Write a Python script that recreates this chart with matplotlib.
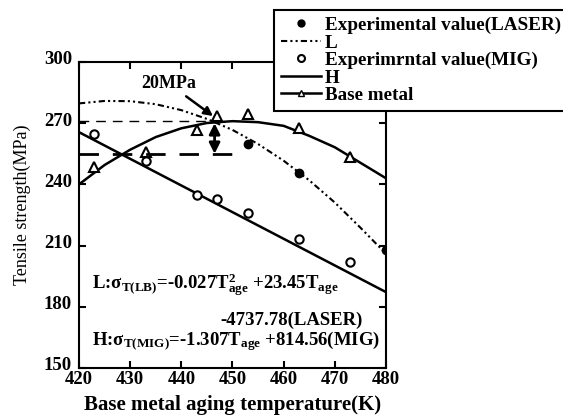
import matplotlib
matplotlib.use("Agg")
import matplotlib.pyplot as plt
from matplotlib.lines import Line2D
from matplotlib.transforms import ScaledTranslation

# values
temp_laser = [453, 463, 480]
ts_laser = [260.0, 245.5, 208.0]

temp_mig = [423, 433, 443, 447, 453, 463, 473]
ts_mig = [264.5, 251.5, 234.8, 232.8, 225.8, 213.0, 202.0]

temp_base = [423, 433, 443, 447, 453, 463, 473]
ts_base = [248.7, 256.0, 266.7, 273.5, 274.5, 267.5, 253.6]

# fitted curves
curve_temp = [420, 425, 430, 435, 440, 445, 450, 455, 460, 465, 470, 475, 480]
curve_L = [279.7, 280.9, 280.8, 279.3, 276.4, 272.1, 266.7, 259.8, 251.6, 242.0, 231.1, 218.8, 206.0]
curve_base = [240.0, 249.5, 257.0, 263.2, 267.5, 270.1, 271.0, 270.5, 268.7, 263.8, 258.2, 250.6, 243.0]
line_H_temp = [420, 480]
line_H = [265.6, 187.2]

upper_level = 271.0
lower_level = 255.0
level_end = [447, 450]

plt.rcParams["font.family"] = ["Liberation Serif", "DejaVu Serif"]
plt.rcParams["font.weight"] = "bold"
plt.rcParams["mathtext.fontset"] = "custom"
plt.rcParams["mathtext.rm"] = "Liberation Serif:bold"
plt.rcParams["mathtext.it"] = "Liberation Serif:bold"
plt.rcParams["mathtext.bf"] = "Liberation Serif:bold"

fig = plt.figure(figsize=(5.63, 4.20), dpi=100)
ax = fig.add_axes([0.1403, 0.1238, 0.5453, 0.7286])

lw = 1.8
ax.plot(curve_temp, curve_L, color="black", lw=1.5, ls=(0, (3, 1.5, 1, 1.5, 1, 1.5)))
ax.plot(line_H_temp, line_H, color="black", lw=lw)
ax.plot(curve_temp, curve_base, color="black", lw=lw)

ax.plot(temp_laser, ts_laser, "o", color="black", ms=6)
ax.plot(temp_mig, ts_mig, "o", mfc="white", mec="black", mew=1.5, ms=6)
ax.plot(temp_base, ts_base, "^", mfc="white", mec="black", mew=1.5, ms=7)

ax.plot([420, level_end[0]], [upper_level, upper_level], color="black", lw=1, ls=(0, (7, 5)))
ax.plot([420, level_end[1]], [lower_level, lower_level], color="black", lw=2, ls=(0, (7, 5)))

ax.annotate("", xy=(446.5, lower_level), xytext=(446.5, upper_level - 1),
            arrowprops=dict(arrowstyle="<|-|>", color="black", lw=2,
                            mutation_scale=16, shrinkA=0, shrinkB=0))
ax.annotate("20MPa", xy=(446.2, 273.5), xytext=(437.5, 289.5),
            ha="center", va="center", fontsize=13,
            arrowprops=dict(arrowstyle="-|>", color="black", lw=1.8,
                            mutation_scale=13, shrinkA=2, shrinkB=0))

ax.text(422.5, 190.5, r"L:$\mathbf{\sigma_{T(LB)}}$=-0.027T$^2_{age}$ +23.45T$_{age}$",
        fontsize=13.5, ha="left", va="center")
ax.text(475.5, 173.5, "-4737.78(LASER)", fontsize=13.5, ha="right", va="center")
ax.text(422.5, 163.0, r"H:$\mathbf{\sigma_{T(MIG)}}$=-1.307T$_{age}$ +814.56(MIG)",
        fontsize=13.5, ha="left", va="center")

ax.set_xlim(420, 480)
ax.set_ylim(150, 300)
ax.set_xticks([420, 430, 440, 450, 460, 470, 480])
ax.set_yticks([150, 180, 210, 240, 270, 300])
ax.tick_params(direction="in", top=True, right=True, length=5, width=1.5, labelsize=13.5)
ax.tick_params(axis="x", pad=2)
ax.tick_params(axis="y", pad=5)
for lab in ax.get_yticklabels():
    lab.set_transform(lab.get_transform() + ScaledTranslation(0, 3 / 72, fig.dpi_scale_trans))
for s in ax.spines.values():
    s.set_linewidth(1.5)
ax.set_xlabel("Base metal aging temperature(K)", fontsize=15, fontweight="bold", labelpad=5)
ax.set_ylabel("Tensile strength(MPa)", fontsize=13, fontweight="normal")
ax.yaxis.set_label_coords(-0.155, 0.533)

handles = [
    Line2D([], [], ls="none", marker="o", color="black", ms=5),
    Line2D([], [], color="black", lw=1.5, ls=(0, (3, 1.5, 1, 1.5, 1, 1.5))),
    Line2D([], [], ls="none", marker="o", mfc="white", mec="black", mew=1.5, ms=5),
    Line2D([], [], color="black", lw=1.8),
    Line2D([], [], color="black", lw=1.8, marker="^", mfc="white", mec="black", ms=5),
]
labels = ["Experimental value(LASER)", "L", "Experimrntal value(MIG)", "H", "Base metal"]
leg = fig.legend(handles, labels, loc="upper left", bbox_to_anchor=(0.487, 0.976),
                 fontsize=13.8, frameon=True, fancybox=False, framealpha=1,
                 edgecolor="black", handlelength=2.1, handletextpad=0.2,
                 labelspacing=0.0, borderpad=0.35, borderaxespad=0)
leg.get_frame().set_linewidth(1.5)

fig.savefig("out.png", dpi=100)
